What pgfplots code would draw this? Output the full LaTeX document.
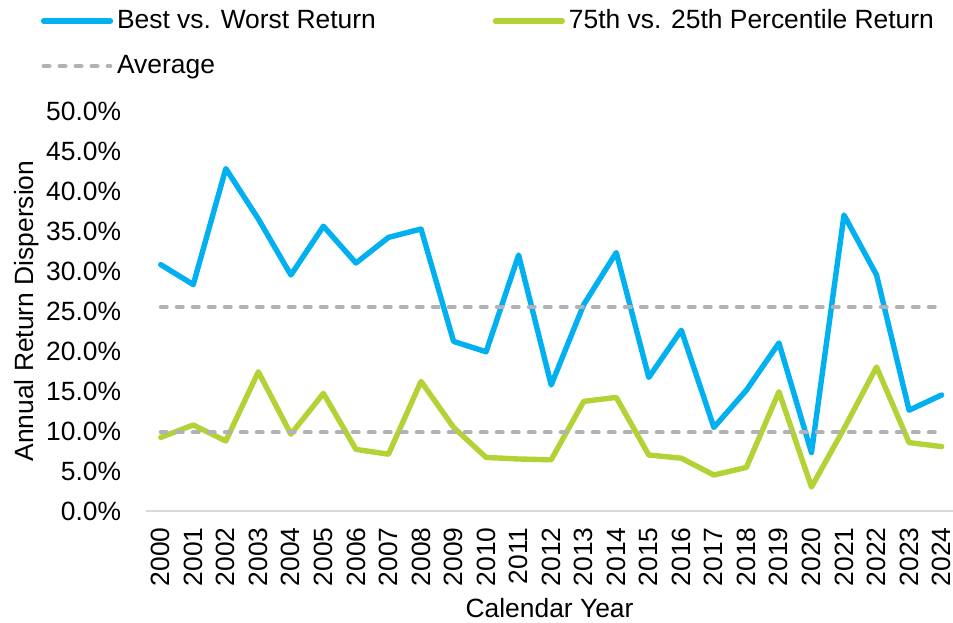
\documentclass[border=0pt]{standalone}
\usepackage{pgfplots}
\pgfplotsset{compat=1.18}
\usepackage{pgfplotstable}
\usepackage{fontspec}
\setmainfont{Liberation Sans}
\definecolor{cblue}{RGB}{0,176,240}
\definecolor{cgreen}{RGB}{178,210,53}
\definecolor{cgrey}{RGB}{178,178,182}
\definecolor{caxis}{RGB}{217,217,217}
\pgfplotstableread{
year best pct
2000 30.8 9.2
2001 28.3 10.75
2002 42.8 8.75
2003 36.5 17.4
2004 29.5 9.6
2005 35.6 14.7
2006 31.0 7.7
2007 34.2 7.1
2008 35.25 16.2
2009 21.2 10.45
2010 19.9 6.7
2011 32.0 6.5
2012 15.75 6.4
2013 25.8 13.7
2014 32.3 14.2
2015 16.7 7.0
2016 22.6 6.6
2017 10.45 4.5
2018 15.1 5.45
2019 21.0 14.9
2020 7.3 3.0
2021 37.0 10.3
2022 29.5 18.0
2023 12.6 8.55
2024 14.5 8.05
}\datatable
\begin{document}
\begin{tikzpicture}[font=\fontsize{13.2}{15.8}\selectfont]
\useasboundingbox (0,0) rectangle (476.5pt,311pt);
\begin{axis}[
  at={(73.05pt,55.5pt)}, anchor=south west,
  scale only axis, width=403.45pt, height=200pt,
  xmin=1999.55, xmax=2024.35, ymin=0, ymax=50,
  axis x line*=bottom, axis y line*=left,
  x axis line style={caxis, line width=0.75pt},
  y axis line style={draw=none},
  major tick length=0pt,
  tick style={draw=none},
  /pgf/number format/assume math mode=true,
  xtick={2000,...,2024},
  xticklabel style={rotate=90, anchor=east, inner sep=0pt, /pgf/number format/1000 sep={}},
  xticklabel shift=8pt,
  ytick={0,5,...,50},
  yticklabel={\pgfmathprintnumber[fixed,fixed zerofill,precision=1]{\tick}\%},
  yticklabel style={anchor=east, inner sep=0pt},
  yticklabel shift=12.3pt,
  xlabel={Calendar Year},
  xlabel style={at={(axis description cs:0.5,-0.2425)}, anchor=center},
  ylabel={Annual Return Dispersion},
  ylabel style={at={(axis description cs:-0.1476,0.5)}, anchor=center},
  legend columns=2,
  legend cell align=left,
  legend style={at={(axis description cs:-0.1336,1.2555)}, anchor=north west,
    draw=none, fill=none, inner sep=0pt, outer sep=0pt,
    row sep=10.2pt, column sep=0pt,
    nodes={inner sep=0pt, text height=9.6pt, text depth=2.7pt},
    /tikz/every odd column/.append style={column sep=0.7pt},
    /tikz/every even column/.append style={column sep=57.2pt}},
  legend image code/.code={\path (0pt,0pt) (36pt,0pt); \draw[#1] (1.3pt,0pt) -- (34.7pt,0pt);},
]
\addplot[color=cblue, line width=2.7pt, line join=round, line cap=round] table[x=year, y=best] {\datatable};
\addlegendentry{Best vs. Worst Return}
\addplot[color=cgreen, line width=2.7pt, line join=round, line cap=round] table[x=year, y=pct] {\datatable};
\addlegendentry{75th vs. 25th Percentile Return}
\addplot[color=cgrey, line width=2pt, line cap=round, dash pattern=on 3pt off 5pt] coordinates {(2000,25.5) (2024,25.5)};
\addlegendentry{Average}
\addplot[forget plot, color=cgrey, line width=2pt, line cap=round, dash pattern=on 3pt off 5pt] coordinates {(2000,9.83) (2024,9.83)};
\end{axis}
\end{tikzpicture}
\end{document}
